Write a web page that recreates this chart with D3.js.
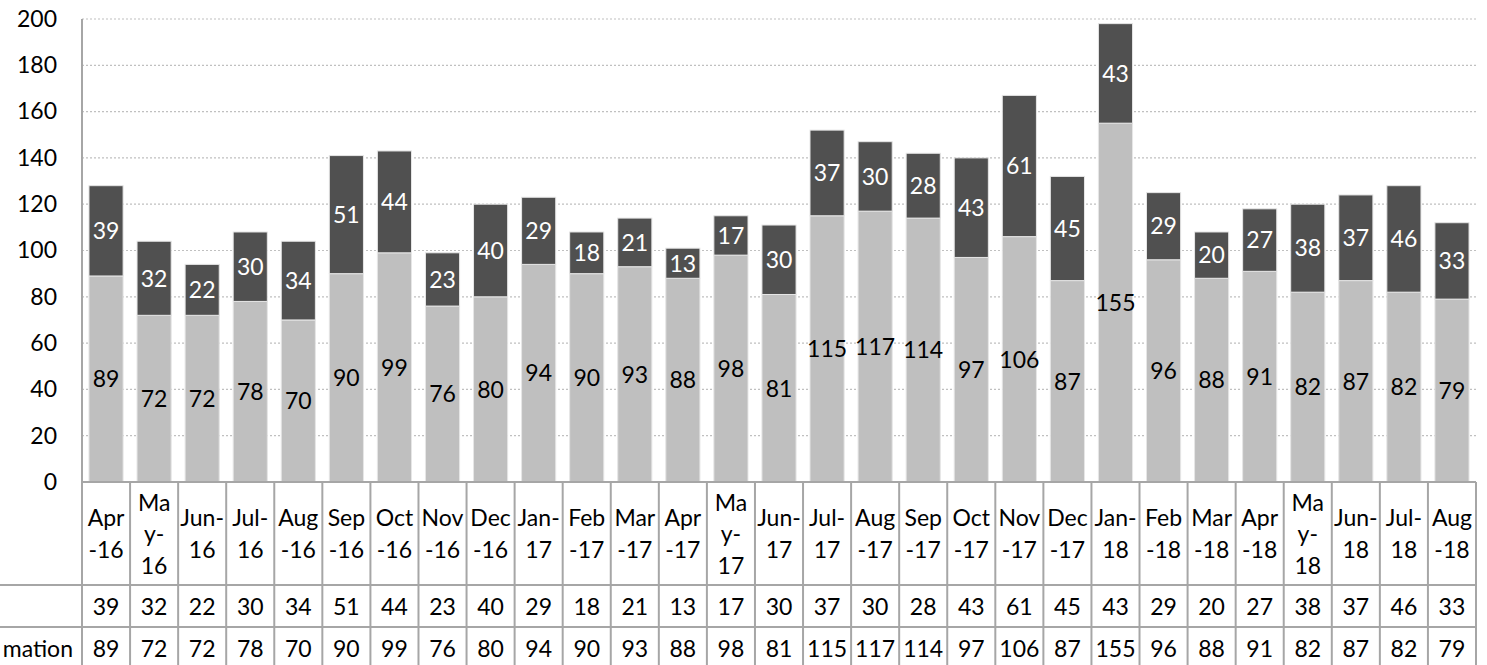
<!DOCTYPE html>
<html>
<head>
<meta charset="utf-8">
<script src="https://cdn.jsdelivr.net/npm/d3@7"></script>
<style>
  html, body { margin: 0; padding: 0; background: #fff; overflow: hidden; }
  svg { display: block; font-family: Lato, "Open Sans", sans-serif; }
</style>
</head>
<body>
<svg id="chart" width="1487" height="665"></svg>
<script>
const categories = ["Apr-16","May-16","Jun-16","Jul-16","Aug-16","Sep-16","Oct-16","Nov-16","Dec-16",
  "Jan-17","Feb-17","Mar-17","Apr-17","May-17","Jun-17","Jul-17","Aug-17","Sep-17","Oct-17","Nov-17","Dec-17",
  "Jan-18","Feb-18","Mar-18","Apr-18","May-18","Jun-18","Jul-18","Aug-18"];
const seriesBottom = [89,72,72,78,70,90,99,76,80,94,90,93,88,98,81,115,117,114,97,106,87,155,96,88,91,82,87,82,79];
const seriesTop = [39,32,22,30,34,51,44,23,40,29,18,21,13,17,30,37,30,28,43,61,45,43,29,20,27,38,37,46,33];
const seriesNames = ["", "mation"];
const yTicks = [0,20,40,60,80,100,120,140,160,180,200];

(function () {
const svg = d3.select("#chart");
const pLeft = 82, pRight = 1476, pTop = 19, pBottom = 482;
const rowLines = [482, 585, 627, 672];
const fs = 23;
const gridColor = "#a6a6a6";
const ff = "Lato, 'Open Sans', sans-serif";

const x = d3.scaleBand().domain(categories).range([pLeft, pRight]).paddingInner(0.29).paddingOuter(0.145);
const xCell = d3.scaleBand().domain(categories).range([pLeft, pRight]).padding(0);
const y = d3.scaleLinear().domain([0, 200]).range([pBottom, pTop]);

// gridlines
svg.append("g").selectAll("line").data(yTicks.filter(d => d > 0)).join("line")
  .attr("x1", pLeft).attr("x2", pRight)
  .attr("y1", d => y(d)).attr("y2", d => y(d))
  .attr("stroke", "#c0c0c0").attr("stroke-width", 1.2).attr("stroke-dasharray", "2,2");

// y axis labels
const yAxis = d3.axisLeft(y).tickValues(yTicks).tickSize(0).tickPadding(25);
const ya = svg.append("g").attr("transform", `translate(${pLeft},0)`).call(yAxis);
ya.select(".domain").remove();
ya.selectAll("text").attr("font-size", fs).attr("fill", "#000").attr("font-family", ff);

// stacked bars
const stackData = categories.map((c, i) => ({cat: c, bottom: seriesBottom[i], top: seriesTop[i]}));
const stack = d3.stack().keys(["bottom", "top"])(stackData);
const colors = {bottom: "#bfbfbf", top: "#505050"};
const labelColors = {bottom: "#000", top: "#fff"};

stack.forEach(layer => {
  const g = svg.append("g");
  g.selectAll("rect").data(layer).join("rect")
    .attr("x", d => x(d.data.cat))
    .attr("width", x.bandwidth())
    .attr("y", d => y(d[1]))
    .attr("height", d => y(d[0]) - y(d[1]))
    .attr("fill", colors[layer.key])
    .attr("stroke", "#e6e6e6").attr("stroke-width", 1);
  g.selectAll("text").data(layer).join("text")
    .attr("x", d => x(d.data.cat) + x.bandwidth() / 2)
    .attr("y", d => y((d[0] + d[1]) / 2))
    .attr("dy", "0.36em")
    .attr("text-anchor", "middle")
    .attr("font-size", fs)
    .attr("fill", labelColors[layer.key])
    .text(d => d[1] - d[0]);
});

// data table
const tg = svg.append("g");
tg.append("line").attr("x1", pLeft).attr("x2", pLeft).attr("y1", pTop).attr("y2", 665)
  .attr("stroke", gridColor).attr("stroke-width", 2);
rowLines.forEach((ry, i) => {
  tg.append("line").attr("x1", i === 0 ? pLeft : 0).attr("x2", pRight).attr("y1", ry).attr("y2", ry)
    .attr("stroke", gridColor).attr("stroke-width", 2);
});
tg.selectAll("line.v").data(categories).join("line").attr("class", "v")
  .attr("x1", d => xCell(d) + xCell.bandwidth()).attr("x2", d => xCell(d) + xCell.bandwidth())
  .attr("y1", pBottom).attr("y2", 665)
  .attr("stroke", gridColor).attr("stroke-width", 2);

function wrapLabel(name) {
  const [m, yy] = name.split("-");
  if (m === "May") return ["Ma", "y-", yy];
  if (["Jun", "Jul", "Jan"].includes(m)) return [m + "-", yy];
  return [m, "-" + yy];
}

categories.forEach(c => {
  const lines = wrapLabel(c);
  const cx = xCell(c) + xCell.bandwidth() / 2;
  lines.forEach((t, i) => {
    tg.append("text").attr("x", cx).attr("y", 542 + (i - (lines.length - 1) / 2) * 31.5)
      .attr("text-anchor", "middle").attr("font-size", fs).attr("fill", "#000").text(t);
  });
});

const rowBase = [615, 657];
[seriesTop, seriesBottom].forEach((vals, r) => {
  tg.append("g").selectAll("text").data(vals).join("text")
    .attr("x", (d, i) => xCell(categories[i]) + xCell.bandwidth() / 2)
    .attr("y", rowBase[r])
    .attr("text-anchor", "middle").attr("font-size", fs).attr("fill", "#000")
    .text(d => d);
  tg.append("text").attr("x", 73).attr("y", rowBase[r]).attr("text-anchor", "end")
    .attr("font-size", fs).attr("fill", "#000").text(seriesNames[r]);
});
})();
</script>
</body>
</html>
